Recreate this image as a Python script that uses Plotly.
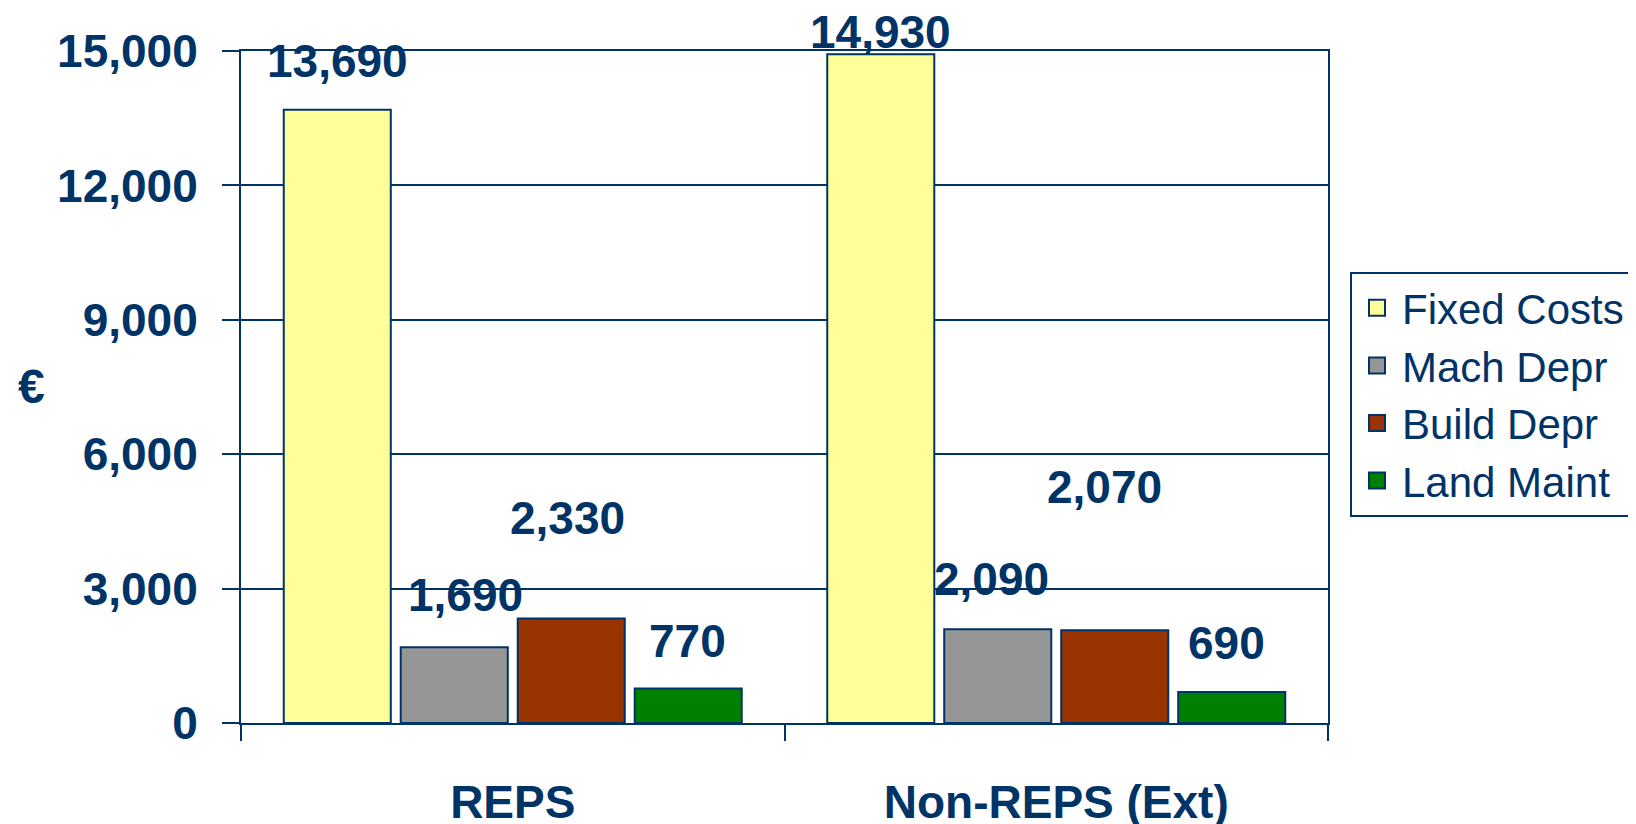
import plotly.graph_objects as go

categories = ["REPS", "Non-REPS (Ext)"]
series_names = ["Fixed Costs", "Mach Depr", "Build Depr", "Land Maint"]
fixed_costs = [13690, 14930]
mach_depr = [1690, 2090]
build_depr = [2330, 2070]
land_maint = [770, 690]
y_ticks = [0, 3000, 6000, 9000, 12000, 15000]

series_values = [fixed_costs, mach_depr, build_depr, land_maint]
colors = ["#FFFF99", "#969696", "#993300", "#008000"]
NAVY = "#003366"
FONT = "Liberation Sans, Arial, sans-serif"

# manual label placement (pixels above bar top, horizontal nudge) per series/category
label_lift = [[49, 22], [52, 50], [101, 143], [48, 49]]
label_dx = [[0, 0], [11, -6], [-4, -10], [-1, -5]]

BARGAP = 0.139
GROUPGAP = 0.085

W, H = 1636, 824
# page body has an 8px offset, margins compensate
L, R, T, B = 233, 316, 43, 109
pw, ph = W - L - R, H - T - B

fig = go.Figure()
for name, vals, col in zip(series_names, series_values, colors):
    fig.add_trace(go.Bar(
        name=name, x=categories, y=vals, showlegend=False, legendgroup=name,
        marker=dict(color=col, line=dict(color=NAVY, width=2)),
    ))
# legend entries with larger square swatches
for name, col in zip(series_names, colors):
    fig.add_trace(go.Scatter(
        name=name, x=[None], y=[None], mode="markers", legendgroup=name,
        marker=dict(symbol="square", size=24, color=col, line=dict(color=NAVY, width=2)),
        hoverinfo="skip",
    ))

slot = (1 - BARGAP) / len(series_names)
annotations = []
for i, vals in enumerate(series_values):
    for j, v in enumerate(vals):
        annotations.append(dict(
            x=j + (i - 1.5) * slot, y=v, xref="x", yref="y",
            text=f"{v:,}", showarrow=False,
            xanchor="center", yanchor="middle",
            xshift=label_dx[i][j], yshift=label_lift[i][j],
            font=dict(family=FONT, size=46, color=NAVY, weight="bold"),
        ))

annotations.append(dict(
    x=(24 - L) / pw, y=(H - B - 378) / ph, xref="paper", yref="paper",
    text="€", showarrow=False, xanchor="center", yanchor="middle",
    font=dict(family=FONT, size=48, color=NAVY, weight="bold"),
))

fig.update_layout(
    width=W, height=H,
    margin=dict(l=L, r=R, t=T, b=B, autoexpand=False),
    paper_bgcolor="white", plot_bgcolor="white",
    barmode="group", bargap=BARGAP, bargroupgap=GROUPGAP,
    font=dict(family=FONT, color=NAVY),
    annotations=annotations,
    legend=dict(
        x=(1342 - L) / pw, y=(H - B - 264) / ph, xanchor="left", yanchor="top",
        bordercolor=NAVY, borderwidth=2, bgcolor="white",
        font=dict(family=FONT, size=42, color=NAVY),
        tracegroupgap=0, itemwidth=40,
    ),
    showlegend=True,
)
fig.update_xaxes(
    showline=True, linecolor=NAVY, linewidth=2, mirror=True,
    ticks="outside", tickson="boundaries", ticklen=16, tickwidth=2, tickcolor=NAVY,
    showgrid=False, ticklabelstandoff=38,
    tickfont=dict(family=FONT, size=46, color=NAVY, weight="bold"),
)
fig.update_yaxes(
    range=[0, 15000], tickvals=y_ticks, tickformat=",",
    showline=True, linecolor=NAVY, linewidth=2, mirror=True,
    ticks="outside", ticklen=17, tickwidth=2, tickcolor=NAVY,
    showgrid=True, gridcolor=NAVY, gridwidth=2, zeroline=False,
    ticklabelstandoff=15,
    tickfont=dict(family=FONT, size=46, color=NAVY, weight="bold"),
)

fig.write_html("out.html")
